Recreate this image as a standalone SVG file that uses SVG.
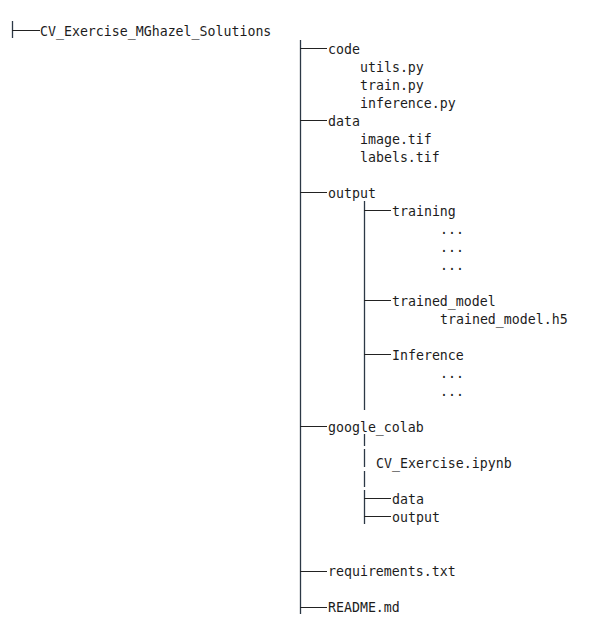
<svg xmlns="http://www.w3.org/2000/svg" width="604" height="634" viewBox="0 0 604 634">
<style>
text{font-family:"DejaVu Sans Mono","Liberation Mono",monospace;font-size:13.25px;fill:#1c1c1c}
.v{stroke:#2c3846;stroke-width:1.3;fill:none}
.h{stroke:#222;stroke-width:1;fill:none}
</style>
<rect width="604" height="634" fill="#ffffff"/>
<g id="connectors">
<line class="v" x1="12.5" y1="21" x2="12.5" y2="38"/>
<line class="h" x1="12" y1="30.5" x2="40" y2="30.5"/>
<line class="v" x1="300.5" y1="40" x2="300.5" y2="614"/>
<line class="h" x1="300" y1="48.5" x2="327" y2="48.5"/>
<line class="h" x1="300" y1="120.5" x2="327" y2="120.5"/>
<line class="h" x1="300" y1="192.5" x2="327" y2="192.5"/>
<line class="h" x1="300" y1="426.5" x2="327" y2="426.5"/>
<line class="h" x1="300" y1="571.5" x2="327" y2="571.5"/>
<line class="h" x1="300" y1="607.5" x2="327" y2="607.5"/>
<line class="v" x1="364.5" y1="201" x2="364.5" y2="410"/>
<line class="h" x1="364" y1="210.5" x2="391" y2="210.5"/>
<line class="h" x1="364" y1="300.5" x2="391" y2="300.5"/>
<line class="h" x1="364" y1="354.5" x2="391" y2="354.5"/>
<line class="v" x1="364.5" y1="434" x2="364.5" y2="446"/>
<line class="v" x1="364.5" y1="449" x2="364.5" y2="467"/>
<line class="v" x1="364.5" y1="471" x2="364.5" y2="487"/>
<line class="v" x1="364.5" y1="490" x2="364.5" y2="524"/>
<line class="h" x1="364" y1="498.5" x2="391" y2="498.5"/>
<line class="h" x1="364" y1="516.5" x2="391" y2="516.5"/>
</g>
<g id="root"><text x="40" y="35.5">CV_Exercise_MGhazel_Solutions</text></g>
<g id="code"><text x="328" y="53.5">code</text>
<text x="360" y="71.5">utils.py</text>
<text x="360" y="89.5">train.py</text>
<text x="360" y="107.6">inference.py</text></g>
<g id="data"><text x="328" y="125.6">data</text>
<text x="360" y="143.6">image.tif</text>
<text x="360" y="161.7">labels.tif</text></g>
<g id="output"><text x="328" y="197.7">output</text></g>
<g id="training"><text x="392" y="215.8">training</text>
<text x="440" y="233.8">...</text>
<text x="440" y="251.8">...</text>
<text x="440" y="269.9">...</text></g>
<g id="trained_model"><text x="392" y="305.9">trained_model</text>
<text x="440" y="324">trained_model.h5</text></g>
<g id="inference"><text x="392" y="360">Inference</text>
<text x="440" y="378">...</text>
<text x="440" y="396.1">...</text></g>
<g id="google_colab"><text x="328" y="432.1">google_colab</text>
<text x="376" y="468.2">CV_Exercise.ipynb</text>
<text x="392" y="504.2">data</text>
<text x="392" y="522.3">output</text></g>
<g id="requirements"><text x="328" y="576.4">requirements.txt</text></g>
<g id="readme"><text x="328" y="612.4">README.md</text></g>
</svg>
